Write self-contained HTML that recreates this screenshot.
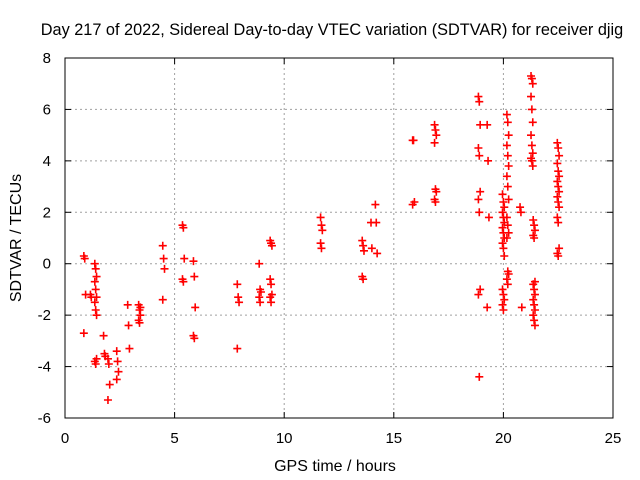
<!DOCTYPE html>
<html><head><meta charset="utf-8"><style>
body{margin:0;background:#fff}
svg{display:block;font-family:"Liberation Sans",sans-serif}
</style></head><body>
<svg id="chart" width="640" height="480">
<text x="332" y="35" font-size="16.3" text-anchor="middle">Day 217 of 2022, Sidereal Day-to-day VTEC variation (SDTVAR) for receiver djig</text>
<text x="21" y="238" font-size="16" text-anchor="middle" transform="rotate(-90 21 238)">SDTVAR / TECUs</text>
<text x="335" y="471" font-size="16" text-anchor="middle">GPS time / hours</text>
<g id="grid"></g><g id="ticks"></g><g id="marks"></g>
<rect x="65" y="58" width="548" height="360" fill="none" stroke="#000"/>
</svg>
<script>
const xTicks=[0,5,10,15,20,25];
const yTicks=[-6,-4,-2,0,2,4,6,8];
const groupHours=[0.9,1.2,1.4,1.8,2.0,2.4,2.9,3.4,4.5,5.4,5.9,7.9,8.9,9.4,11.7,13.6,14.0,14.2,15.9,16.9,18.9,19.3,20.0,20.2,20.8,21.3,21.4,22.5];
const groupValues=[
[0.3,0.2,-1.2,-2.7],
[-1.2,-1.3],
[0,-0.2,-0.5,-0.7,-1.0,-1.3,-1.5,-1.8,-2.0,-3.8,-3.9,-3.7],
[-2.8,-3.5,-3.6],
[-3.7,-3.9,-4.7,-5.3],
[-3.4,-3.8,-4.2,-4.5],
[-1.6,-2.4,-3.3],
[-1.6,-1.8,-2.0,-2.2,-2.3,-1.7],
[0.7,0.2,-0.2,-1.4],
[1.5,1.4,0.2,-0.6,-0.7],
[0.1,-0.5,-1.7,-2.8,-2.9],
[-0.8,-1.3,-1.5,-3.3],
[0,-1.0,-1.1,-1.3,-1.5],
[0.9,0.8,0.7,-0.6,-0.8,-1.2,-1.3,-1.5],
[1.8,1.5,1.3,0.8,0.6],
[0.9,0.7,0.5,-0.5,-0.6],
[1.6,0.6],
[2.3,1.6,0.4],
[4.8,4.8,2.4,2.3],
[5.4,5.2,5.0,4.7,2.9,2.8,2.5,2.4],
[6.5,6.3,5.4,4.5,4.2,2.8,2.5,2.0,-1.0,-1.2,-4.4],
[5.4,4.0,1.8,-1.7],
[2.7,2.4,2.2,2.0,1.8,1.6,1.4,1.2,1.0,0.8,0.6,0.3,-1.0,-1.2,-1.4,-1.6,-1.8],
[5.8,5.5,5.0,4.6,4.2,3.8,3.4,3.0,2.5,1.8,1.5,1.2,1.0,-0.3,-0.4,-0.6,-0.8],
[2.2,2.0,-1.7],
[7.3,7.2,7.0,6.5,6.0,5.5,5.0,4.6,4.3,4.1,4.0,3.8],
[1.7,1.5,1.3,1.1,1.0,-0.7,-0.8,-1.0,-1.2,-1.4,-1.6,-1.8,-2.0,-2.2,-2.4],
[4.7,4.5,4.2,3.9,3.6,3.4,3.2,3.0,2.8,2.6,2.4,2.2,1.8,1.6,0.6,0.4,0.3]
];
const NS="http://www.w3.org/2000/svg";
const L=65,R=613,T=58,B=418;
function sx(v){return L+(v-0)/(25-0)*(R-L);}
function sy(v){return B-(v+6)/(8+6)*(B-T);}
function mk(tag,a,p){const e=document.createElementNS(NS,tag);for(const k in a)e.setAttribute(k,a[k]);p.appendChild(e);return e;}
const grid=document.getElementById('grid'),ticks=document.getElementById('ticks'),marks=document.getElementById('marks');
xTicks.forEach(v=>{const x=sx(v);
 if(v>0&&v<25){const g=mk('line',{x1:x,x2:x,y1:T,y2:B,stroke:'#a0a0a0','stroke-dasharray':'2,3'},grid);
 
 }
 mk('line',{x1:x,x2:x,y1:B,y2:B-6,stroke:'#000'},ticks);
 mk('line',{x1:x,x2:x,y1:T,y2:T+6,stroke:'#000'},ticks);
 const t=mk('text',{x:x,y:B+25,'font-size':15,'text-anchor':'middle'},ticks);t.textContent=v;
 
 
});
yTicks.forEach(v=>{const y=sy(v);
 if(v>-6&&v<8){const g=mk('line',{x1:L,x2:R,y1:y,y2:y,stroke:'#a0a0a0','stroke-dasharray':'2,3'},grid);
 
 }
 mk('line',{x1:L,x2:L+6,y1:y,y2:y,stroke:'#000'},ticks);
 mk('line',{x1:R,x2:R-6,y1:y,y2:y,stroke:'#000'},ticks);
 const t=mk('text',{x:L-14,y:y+5,'font-size':15,'text-anchor':'end'},ticks);t.textContent=v;
 
 
});
groupHours.forEach((h,i)=>{groupValues[i].forEach((v,j)=>{
 const x=sx(h+((j%3)-1)*0.04),y=sy(v);
 const p=mk('path',{d:`M${x-4} ${y}H${x+4}M${x} ${y-4}V${y+4}`,stroke:'#ff0000','stroke-width':1.6,fill:'none'},marks);
 
 
});});
</script>
</body></html>
